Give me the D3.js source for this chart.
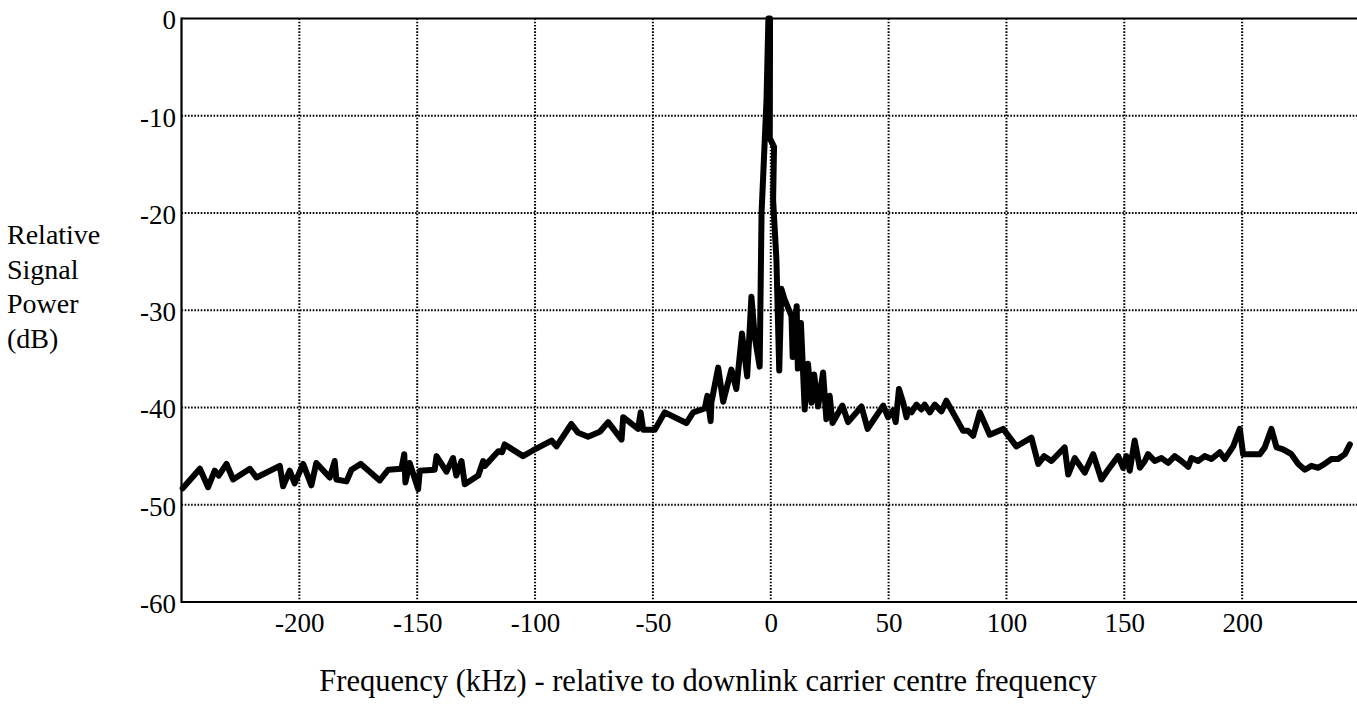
<!DOCTYPE html>
<html>
<head>
<meta charset="utf-8">
<script src="https://cdn.jsdelivr.net/npm/d3@7"></script>
<style>
  html, body { margin: 0; padding: 0; background: #fff; }
  svg { display: block; }
  text { font-family: "Liberation Serif", "Times New Roman", serif; fill: #000; }
</style>
</head>
<body>
<svg id="chart" width="1357" height="715"></svg>
<script>
// Frequency offsets (kHz)
const freqKHz = [
  -249.5, -242.2, -238.7, -235.9, -234.2, -230.9, -228.1, -221.0, -218.2, -208.3,
  -206.9, -204.1, -202.0, -198.4, -194.9, -192.8, -187.1, -185.0, -184.3, -180.0,
  -177.9, -173.9, -165.9, -162.3, -156.7, -155.5, -155.0, -153.2, -149.6, -148.9,
  -142.6, -141.8, -137.6, -134.8, -133.4, -131.2, -129.8, -124.1, -122.0, -121.3,
  -115.6, -114.0, -112.9, -105.1, -101.5, -100.1, -93.0, -90.9, -84.6, -81.7,
  -77.5, -72.5, -69.0, -63.3, -62.6, -56.3, -55.2, -54.1, -49.2, -45.0,
  -35.8, -32.9, -28.0, -26.9, -25.5, -25.2, -22.3, -20.2, -16.7, -14.6,
  -12.2, -10.0, -8.2, -6.8, -4.7, -3.9, -1.8, -1.0, -0.3, -0.4,
  1.4, 1.0, 2.4, 3.6, 4.5, 5.9, 8.8, 9.3, 11.0, 11.5,
  12.8, 14.4, 15.8, 17.3, 18.4, 20.1, 22.2, 23.6, 25.0, 26.2,
  30.4, 32.8, 38.5, 41.1, 47.7, 49.8, 51.9, 53.0, 54.4, 56.2,
  57.6, 58.3, 59.7, 61.8, 63.9, 65.3, 67.5, 69.6, 72.4, 74.5,
  81.6, 83.7, 85.9, 88.7, 92.9, 98.6, 104.2, 110.6, 113.5, 116.0,
  119.1, 124.7, 126.2, 129.0, 133.2, 136.8, 140.3, 143.1, 147.4, 149.5,
  150.9, 152.3, 154.4, 156.6, 158.7, 160.1, 162.9, 165.8, 168.6, 171.4,
  174.2, 177.1, 178.5, 181.3, 184.1, 187.0, 190.5, 192.6, 196.2, 199.0,
  200.4, 203.9, 207.5, 209.6, 212.4, 214.6, 217.4, 220.9, 223.8, 226.6,
  229.4, 232.3, 235.0, 237.9, 240.7, 243.6, 245.7
];
// Relative signal power (dB) for each frequency above
const powerDB = [
  -48.3, -46.3, -48.2, -46.5, -47.0, -45.8, -47.4, -46.3, -47.2, -46.0,
  -48.1, -46.5, -47.8, -45.8, -48.0, -45.7, -47.2, -45.5, -47.4, -47.6,
  -46.4, -45.8, -47.5, -46.4, -46.3, -44.8, -47.7, -45.7, -48.4, -46.5,
  -46.4, -45.0, -46.6, -45.2, -47.0, -45.5, -47.9, -47.0, -45.5, -46.0,
  -44.5, -44.6, -43.8, -45.0, -44.5, -44.3, -43.4, -44.0, -41.7, -42.6,
  -43.0, -42.5, -41.5, -43.3, -41.0, -42.2, -40.5, -42.3, -42.3, -40.5,
  -41.6, -40.5, -40.1, -38.8, -41.4, -39.5, -35.9, -39.4, -36.1, -38.1,
  -32.4, -36.8, -28.6, -32.7, -35.8, -20.0, -8.4, 0.0, 0.0, -12.3,
  -13.2, -18.6, -24.8, -36.2, -27.8, -28.9, -30.6, -34.8, -29.6, -36.0,
  -31.3, -40.2, -35.5, -39.5, -36.6, -39.9, -36.4, -41.2, -38.8, -41.6,
  -39.8, -41.5, -39.9, -42.2, -39.8, -41.0, -40.3, -41.5, -38.1, -39.5,
  -41.0, -40.2, -40.5, -39.7, -40.2, -39.7, -40.5, -39.7, -40.4, -39.3,
  -42.4, -42.4, -42.9, -40.5, -42.8, -42.2, -44.0, -43.1, -45.8, -45.0,
  -45.5, -44.1, -46.9, -45.2, -46.7, -44.8, -47.4, -46.4, -45.0, -46.2,
  -45.0, -46.5, -43.4, -46.2, -45.5, -44.8, -45.5, -45.2, -45.7, -45.0,
  -45.5, -46.1, -45.2, -45.5, -45.0, -45.3, -44.6, -45.3, -44.0, -42.2,
  -44.8, -44.8, -44.8, -44.1, -42.2, -44.1, -44.3, -44.8, -45.8, -46.4,
  -46.0, -46.2, -45.8, -45.3, -45.3, -44.8, -43.8
];
const xTicks = [-200, -150, -100, -50, 0, 50, 100, 150, 200];
const yTicks = [0, -10, -20, -30, -40, -50, -60];
const yLabelLines = ["Relative", "Signal", "Power", "(dB)"];
const xTitle = "Frequency (kHz) - relative to downlink carrier centre frequency";

const data = freqKHz.map((f, i) => ({ f, v: powerDB[i] }));

const svg = d3.select("#chart");
const x = d3.scaleLinear().domain([-250, 250]).range([181.5, 1360]);
const y = d3.scaleLinear().domain([-60, 0]).range([602, 18.5]);

// grid lines
const grid = svg.append("g");
grid.selectAll("line.v").data(xTicks).join("line")
  .attr("x1", d => x(d)).attr("x2", d => x(d))
  .attr("y1", y(0)).attr("y2", y(-60))
  .attr("stroke", "#000").attr("stroke-width", 2)
  .attr("stroke-dasharray", "1.6,1.6");
grid.selectAll("line.h").data(yTicks.filter(d => d !== 0 && d !== -60)).join("line")
  .attr("x1", x(-250)).attr("x2", 1357)
  .attr("y1", d => y(d)).attr("y2", d => y(d))
  .attr("stroke", "#000").attr("stroke-width", 2)
  .attr("stroke-dasharray", "1.6,1.6");

// frame (left, top, bottom)
svg.append("line").attr("x1", x(-250)).attr("x2", 1357).attr("y1", y(0)).attr("y2", y(0))
  .attr("stroke", "#000").attr("stroke-width", 2.2);
svg.append("line").attr("x1", x(-250)).attr("x2", 1357).attr("y1", y(-60)).attr("y2", y(-60))
  .attr("stroke", "#000").attr("stroke-width", 2.2);
svg.append("line").attr("x1", x(-250)).attr("x2", x(-250)).attr("y1", y(0) - 1).attr("y2", y(-60) + 1)
  .attr("stroke", "#000").attr("stroke-width", 2.2);

// axes (labels only)
const xAxis = d3.axisBottom(x).tickValues(xTicks).tickSize(0).tickPadding(0)
  .tickFormat(d => String(d));
const gx = svg.append("g").attr("transform", `translate(0,${y(-60)})`).call(xAxis);
gx.select(".domain").remove();
gx.selectAll("text").attr("font-size", 27).attr("dy", null).attr("y", 30)
  .style("font-family", "'Liberation Serif', serif");

const yAxis = d3.axisLeft(y).tickValues(yTicks).tickSize(0).tickPadding(0)
  .tickFormat(d => String(d));
const gy = svg.append("g").attr("transform", `translate(176,0)`).call(yAxis);
gy.select(".domain").remove();
gy.selectAll("text").attr("font-size", 27).attr("x", 0).attr("dy", "0.38em")
  .style("font-family", "'Liberation Serif', serif");

// data trace
const line = d3.line().x(d => x(d.f)).y(d => y(d.v));
svg.append("path").datum(data)
  .attr("d", line)
  .attr("fill", "none").attr("stroke", "#000")
  .attr("stroke-width", 6).attr("stroke-linejoin", "round").attr("stroke-linecap", "round");

// y-axis title
const yl = svg.append("text").attr("font-size", 28).attr("x", 7);
yLabelLines.forEach((t, i) => {
  yl.append("tspan").attr("x", 7).attr("y", 244 + i * 34.5).text(t);
});

// x-axis title
svg.append("text").attr("font-size", 30.5).attr("text-anchor", "middle")
  .attr("x", 708).attr("y", 691).text(xTitle);
</script>
</body>
</html>
